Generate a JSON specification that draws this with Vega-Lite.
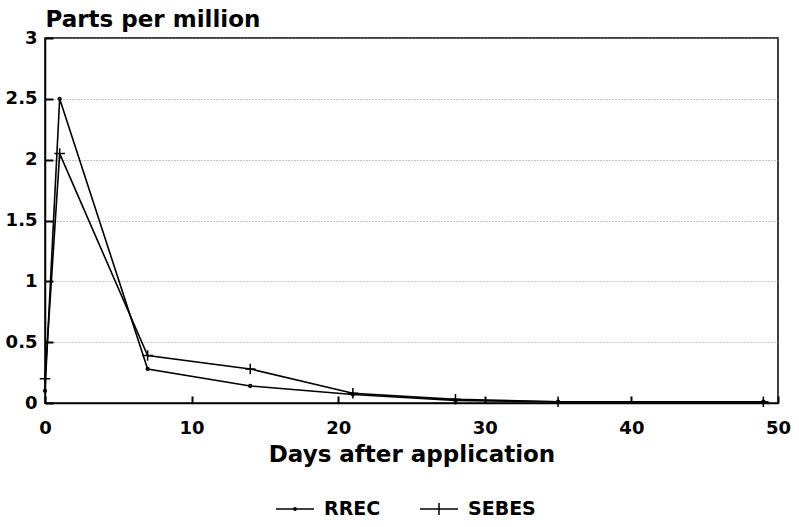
{
  "$schema": "https://vega.github.io/schema/vega-lite/v6.json",
  "width": 733,
  "height": 365,
  "autosize": "none",
  "padding": {"left": 45, "top": 38, "right": 21, "bottom": 124},
  "background": "white",
  "config": {
    "font": "DejaVu Sans",
    "view": {"stroke": "black", "strokeWidth": 1.5},
    "axis": {"labelFont": "DejaVu Sans", "titleFont": "DejaVu Sans", "labelColor": "black", "titleColor": "black", "domainColor": "black", "tickColor": "black"},
    "legend": {"labelFont": "DejaVu Sans"}
  },
  "data": {
    "values": [
      {"day": 0, "ppm": 0.1, "series": "RREC"},
      {"day": 1, "ppm": 2.5, "series": "RREC"},
      {"day": 7, "ppm": 0.28, "series": "RREC"},
      {"day": 14, "ppm": 0.14, "series": "RREC"},
      {"day": 21, "ppm": 0.07, "series": "RREC"},
      {"day": 28, "ppm": 0.02, "series": "RREC"},
      {"day": 35, "ppm": 0.01, "series": "RREC"},
      {"day": 49, "ppm": 0.01, "series": "RREC"},
      {"day": 0, "ppm": 0.2, "series": "SEBES"},
      {"day": 1, "ppm": 2.05, "series": "SEBES"},
      {"day": 7, "ppm": 0.39, "series": "SEBES"},
      {"day": 14, "ppm": 0.28, "series": "SEBES"},
      {"day": 21, "ppm": 0.08, "series": "SEBES"},
      {"day": 28, "ppm": 0.03, "series": "SEBES"},
      {"day": 35, "ppm": 0.01, "series": "SEBES"},
      {"day": 49, "ppm": 0.01, "series": "SEBES"}
    ]
  },
  "encoding": {
    "x": {
      "field": "day", "type": "quantitative",
      "scale": {"domain": [0, 50], "nice": false},
      "axis": {
        "values": [0, 10, 20, 30, 40, 50],
        "title": "Days after application",
        "titleFontSize": 23, "titleFontWeight": "bold", "titlePadding": 6,
        "labelFontSize": 18, "labelFontWeight": "bold", "labelPadding": 23,
        "tickSize": -7, "tickWidth": 2, "domainWidth": 1.5,
        "grid": false, "labelFlush": false
      }
    },
    "y": {
      "field": "ppm", "type": "quantitative",
      "scale": {"domain": [0, 3], "nice": false},
      "axis": {
        "values": [0, 0.5, 1, 1.5, 2, 2.5, 3],
        "format": "~g",
        "title": "Parts per million",
        "titleAngle": 0, "titleAlign": "left", "titleBaseline": "alphabetic",
        "titleX": 0, "titleY": -12,
        "titleFontSize": 23, "titleFontWeight": "bold",
        "labelFontSize": 18, "labelFontWeight": "bold", "labelPadding": 16,
        "tickSize": -8, "tickWidth": 2, "domainWidth": 1.5,
        "grid": true, "gridDash": [1, 2], "gridColor": "#888888", "gridWidth": 1,
        "labelFlush": false
      }
    }
  },
  "layer": [
    {
      "mark": {"type": "line", "color": "black", "strokeWidth": 1.6},
      "encoding": {"detail": {"field": "series"}}
    },
    {
      "mark": {"type": "point", "filled": false, "color": "black", "strokeWidth": 1.5, "opacity": 1},
      "encoding": {
        "shape": {
          "field": "series", "type": "nominal",
          "scale": {"domain": ["RREC", "SEBES"], "range": ["circle", "M-1,0H1M0,-1V1"]},
          "legend": null
        },
        "size": {"condition": {"test": "datum.series == 'RREC'", "value": 8}, "value": 110}
      }
    },
    {
      "mark": {"type": "point", "filled": false, "color": "black", "strokeWidth": 1.5, "opacity": 0},
      "encoding": {
        "shape": {
          "field": "series", "type": "nominal",
          "scale": {"domain": ["RREC", "SEBES"], "range": ["M-1,0H1M-0.06,0a0.06,0.06 0 1,0 0.12,0a0.06,0.06 0 1,0 -0.12,0", "M-1,0H1M0,-0.32V0.32"]},
          "legend": {
            "title": null, "orient": "none", "direction": "horizontal",
            "legendX": 230, "legendY": 451,
            "labelFontSize": 19, "labelFontWeight": "bold", "labelColor": "black",
            "symbolSize": 1444, "symbolStrokeColor": "black", "symbolStrokeWidth": 1.5,
            "symbolOpacity": 1, "symbolFillColor": "black",
            "labelOffset": 9, "columnPadding": 36
          }
        }
      }
    }
  ],
  "resolve": {"scale": {"shape": "independent"}, "legend": {"shape": "independent"}}
}
